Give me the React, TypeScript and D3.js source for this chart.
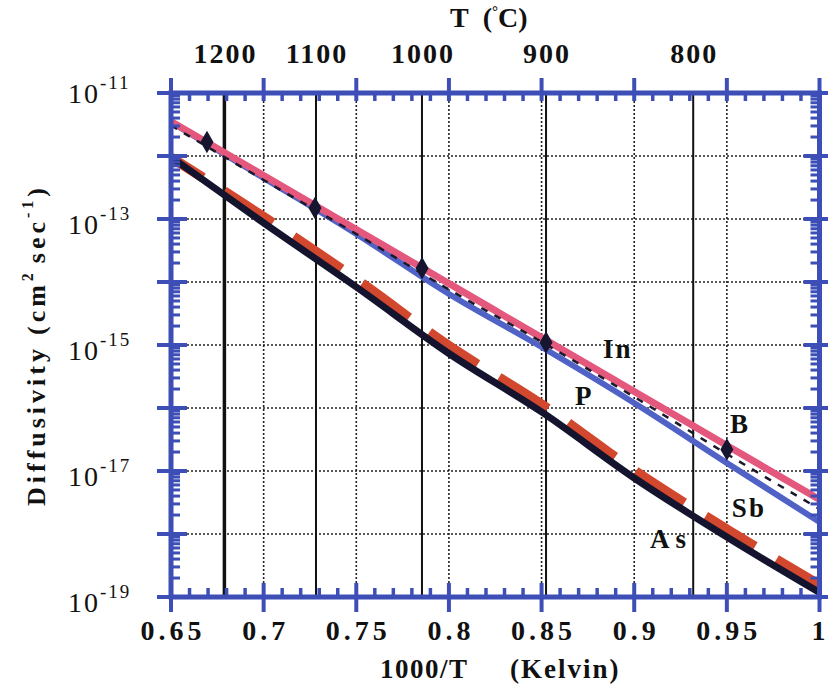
import React from "react";
import * as d3 from "d3";

// ---- data ----
const xDomain = [0.65, 1.0];
const yDomain = [1e-19, 1e-11];
const xTickValues = [0.65, 0.7, 0.75, 0.8, 0.85, 0.9, 0.95, 1.0];
const xTickLabels = ["0.65", "0.7", "0.75", "0.8", "0.85", "0.9", "0.95", "1"];
const yLabelExponents = [-11, -13, -15, -17, -19];
const tempLabelsC = [1200, 1100, 1000, 900, 800];

// 1000/T sample positions at which the curves were read
const curveX = [0.65, 0.7, 0.75, 0.8, 0.85, 0.9, 0.95, 1.0];
const bValues = [3.53e-12, 4.9e-13, 6.81e-14, 9.46e-15, 1.31e-15, 1.83e-16, 2.54e-17, 3.53e-18];
const pValues = [3.46e-12, 4.48e-13, 5.78e-14, 6.45e-15, 9.29e-16, 1.2e-16, 1.34e-17, 1.55e-18];
const inValues = [3.05e-12, 4.16e-13, 5.78e-14, 7.6e-15, 1.12e-15, 1.5e-16, 1.86e-17, 2.49e-18];
const asValues = [9.64e-13, 8.65e-14, 8.33e-15, 7.33e-16, 8.65e-17, 7.74e-18, 8.95e-19, 1.18e-19];
const sbValues = [9.5e-13, 1.08e-13, 1.1e-14, 9.64e-16, 1.14e-16, 1.02e-17, 1.18e-18, 1.55e-19];
const markerX = [0.6694, 0.7277, 0.7855, 0.8524, 0.95];
const markerY = [1.67e-12, 1.5e-13, 1.66e-14, 1.1e-15, 2.2e-17];

const curveLabelNames = ["In", "P", "B", "Sb", "As"];
const curveLabelX = [0.8831, 0.868, 0.9517, 0.9527, 0.9085];
const curveLabelY = [6.2e-16, 1.12e-16, 4.0e-17, 1.86e-18, 6.0e-19];

const W = 828;
const H = 688;
const L = 171, R = 819.5, T = 93, B = 597;
const AXIS = "#3d4fb6";
const FONT = "'Liberation Serif', 'Times New Roman', serif";

export default function App() {
  const x = d3.scaleLinear().domain(xDomain).range([L, R]);
  const y = d3.scaleLog().domain(yDomain).range([B, T]);
  const line = d3
    .line<[number, number]>()
    .curve(d3.curveMonotoneX)
    .x((d) => x(d[0]))
    .y((d) => y(d[1]));
  const pts = (vals: number[]) => curveX.map((v, i) => [v, vals[i]] as [number, number]);

  const decades = d3.range(-18, -11).map((e) => Math.pow(10, e));
  const majorsY = d3.range(-19, -10).map((e) => Math.pow(10, e));
  const minorsY: number[] = [];
  for (let e = -19; e < -11; e++) {
    for (let k = 2; k <= 9; k++) minorsY.push(k * Math.pow(10, e));
  }
  const minorsX: number[] = [];
  for (let i = 0; i < 35; i++) {
    if (i % 5 !== 0) minorsX.push(0.65 + i * 0.01);
  }
  const gridX = xTickValues.slice(1, -1);
  const tempX = tempLabelsC.map((t) => 1000 / (t + 273.15));
  const diamond = d3.symbol().type(d3.symbolDiamond).size(110)();

  return (
    <svg width={W} height={H} style={{ display: "block", position: "absolute", left: 0, top: 0, background: "#fff" }}>
      <defs>
        <clipPath id="plot">
          <rect x={L} y={T} width={R - L} height={B - T} />
        </clipPath>
      </defs>
      <rect x={0} y={0} width={W} height={H} fill="#fff" />

      {/* grid */}
      {decades.map((d, i) => (
        <line key={"gh" + i} x1={L} x2={R} y1={y(d)} y2={y(d)} stroke="#222" strokeWidth={1.6} strokeDasharray="2 2" />
      ))}
      {gridX.map((d, i) => (
        <line key={"gv" + i} x1={x(d)} x2={x(d)} y1={T} y2={B} stroke="#222" strokeWidth={1.6} strokeDasharray="2 2" />
      ))}
      {/* temperature lines */}
      {tempX.map((d, i) => (
        <line key={"tl" + i} x1={x(d)} x2={x(d)} y1={T} y2={B} stroke="#111" strokeWidth={i === 0 ? 3.5 : 2} />
      ))}

      {/* curves */}
      <g clipPath="url(#plot)" fill="none">
        <path d={line(pts(pValues)) || ""} stroke="#5062c6" strokeWidth={6} />
        <path d={line(pts(bValues)) || ""} stroke="#e4587e" strokeWidth={7} />
        <path d={line(pts(inValues)) || ""} stroke="#1a1a2a" strokeWidth={2.5} strokeDasharray="7 8" />
        <path d={line(pts(sbValues)) || ""} stroke="#d2482e" strokeWidth={10} strokeDasharray="58 25" strokeDashoffset={20} />
        <path d={line(pts(asValues)) || ""} stroke="#14142e" strokeWidth={7} />
      </g>
      {markerX.map((mx, i) => (
        <path key={"m" + i} d={diamond || ""} transform={`translate(${x(mx)},${y(markerY[i])})`} fill="#161630" stroke="#161630" strokeWidth={1.5} />
      ))}

      {/* axes frame */}
      <g stroke={AXIS} fill="none">
        <rect x={L} y={T} width={R - L} height={B - T} strokeWidth={5} />
        {xTickValues.map((d, i) => (
          <g key={"xm" + i}>
            <line x1={x(d)} x2={x(d)} y1={B + 15} y2={B - 14} strokeWidth={4} />
            <line x1={x(d)} x2={x(d)} y1={T - 15} y2={T + 8} strokeWidth={4} />
          </g>
        ))}
        {minorsX.map((d, i) => (
          <g key={"xn" + i}>
            <line x1={x(d)} x2={x(d)} y1={B} y2={B - 9} strokeWidth={3.5} />
            <line x1={x(d)} x2={x(d)} y1={T} y2={T + 8} strokeWidth={3.5} />
          </g>
        ))}
        {majorsY.map((d, i) => (
          <g key={"ym" + i}>
            <line x1={L - 14} x2={L + 16} y1={y(d)} y2={y(d)} strokeWidth={4} />
            <line x1={R - 16} x2={R + 14} y1={y(d)} y2={y(d)} strokeWidth={4} />
          </g>
        ))}
        {minorsY.map((d, i) => (
          <g key={"yn" + i}>
            <line x1={L} x2={L + 9} y1={y(d)} y2={y(d)} strokeWidth={3} />
            <line x1={R} x2={R - 9} y1={y(d)} y2={y(d)} strokeWidth={3} />
          </g>
        ))}
      </g>

      {/* x tick labels + top temperature labels */}
      <g fontFamily={FONT} fontWeight="bold" fontSize={28} fill="#111" textAnchor="middle">
        {xTickValues.map((d, i) => {
          const last = i === xTickValues.length - 1;
          return (
            <text key={"xl" + i} x={x(d) + (last ? -1 : 2)} y={640} letterSpacing={last ? 0 : 4}>
              {xTickLabels[i]}
            </text>
          );
        })}
        {tempX.map((d, i) => (
          <text key={"tt" + i} x={x(d) + 1} y={63} letterSpacing={2}>
            {tempLabelsC[i]}
          </text>
        ))}
      </g>

      {/* y tick labels */}
      <g fontFamily={FONT} fill="#111">
        {yLabelExponents.map((e, i) => (
          <text key={"yl" + i} x={68} y={y(Math.pow(10, e)) + (i === 0 ? 10 : 15)} fontSize={28}>
            <tspan letterSpacing={2}>10</tspan>
            <tspan fontSize={19} dy={-14} letterSpacing={2}>{String(e)}</tspan>
          </text>
        ))}
      </g>

      {/* titles and curve labels */}
      <g fontFamily={FONT} fontWeight="bold" fill="#111">
        <text x={450} y={27} fontSize={28}>
          <tspan>T</tspan>
          <tspan dx={14}>(</tspan>
          <tspan fontSize={15} dy={-11}>°</tspan>
          <tspan dy={11}>C)</tspan>
        </text>
        <text x={380} y={678} fontSize={27} letterSpacing={1.5}>1000/T</text>
        <text x={510} y={678} fontSize={27} letterSpacing={2}>(Kelvin)</text>
        <text transform="translate(45,345) rotate(-90)" textAnchor="middle" fontSize={26} letterSpacing={4}>
          <tspan>Diffusivity</tspan>
          <tspan dx={10}>(cm</tspan>
          <tspan fontSize={16} dy={-12}>2</tspan>
          <tspan dx={6} dy={12}>sec</tspan>
          <tspan fontSize={16} dy={-12}>-1</tspan>
          <tspan dy={12}>)</tspan>
        </text>
        {curveLabelNames.map((n, i) => (
          <text key={n} x={x(curveLabelX[i])} y={y(curveLabelY[i])} fontSize={27} letterSpacing={n === "As" ? 6 : 2}>
            {n}
          </text>
        ))}
      </g>
    </svg>
  );
}
